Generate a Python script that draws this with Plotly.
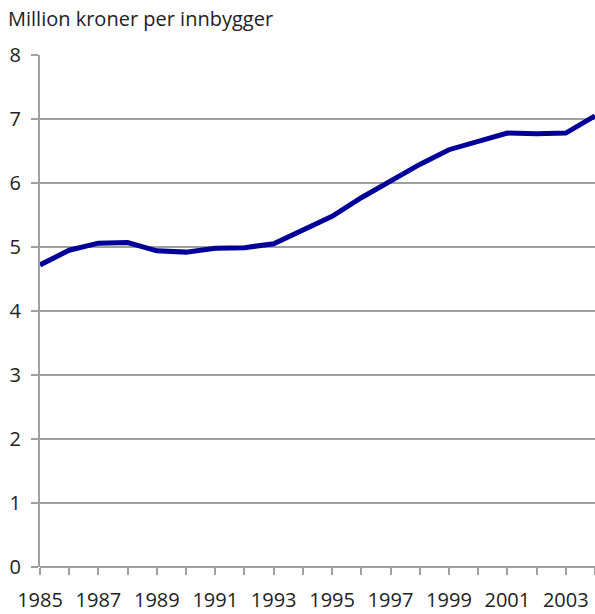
import plotly.graph_objects as go

years = list(range(1985, 2005))
values = [4.72, 4.95, 5.06, 5.07, 4.94, 4.92, 4.98, 4.99, 5.05, 5.27,
          5.48, 5.77, 6.04, 6.29, 6.52, 6.66, 6.78, 6.77, 6.78, 7.05]
tick_text = [str(y) if (y - 1985) % 2 == 0 and y < 2004 else "" for y in years]
y_ticks = list(range(0, 9))
title_text = "Million kroner per innbygger"

FONT = "Open Sans, Noto Sans, sans-serif"
GRID = "#a0a0a0"

fig = go.Figure()
fig.add_trace(go.Scatter(
    x=years, y=values, mode="lines",
    line=dict(color="#000099", width=5),
    hoverinfo="skip",
))

fig.update_layout(
    width=595, height=614,
    margin=dict(l=40, r=0, t=55, b=47),
    plot_bgcolor="white", paper_bgcolor="white",
    showlegend=False,
    font=dict(family=FONT, size=19, color="#222222"),
    title=dict(text=title_text, x=8 / 595, xanchor="left",
               y=1 - 19 / 614, yanchor="middle", xref="container", yref="container",
               font=dict(family=FONT, size=20, color="#222222")),
    xaxis=dict(
        range=[1985, 2004], tickvals=years, ticktext=tick_text,
        showgrid=False, zeroline=False,
        showline=False, automargin=False,
        ticks="outside", ticklen=7, tickwidth=2, tickcolor=GRID,
        ticklabelstandoff=8,
        tickfont=dict(size=20),
    ),
    yaxis=dict(
        range=[0, 8], tickvals=y_ticks, automargin=False,
        showgrid=True, gridcolor=GRID, gridwidth=2,
        zeroline=True, zerolinecolor=GRID, zerolinewidth=2,
        showline=True, linecolor=GRID, linewidth=2,
        ticks="outside", ticklen=7, tickwidth=2, tickcolor=GRID,
        ticklabelstandoff=6,
        tickfont=dict(size=20),
    ),
)

fig.write_html(
    "out.html",
    config={"displayModeBar": False},
    post_script="document.body.style.margin='0';document.body.style.overflow='hidden';",
)
